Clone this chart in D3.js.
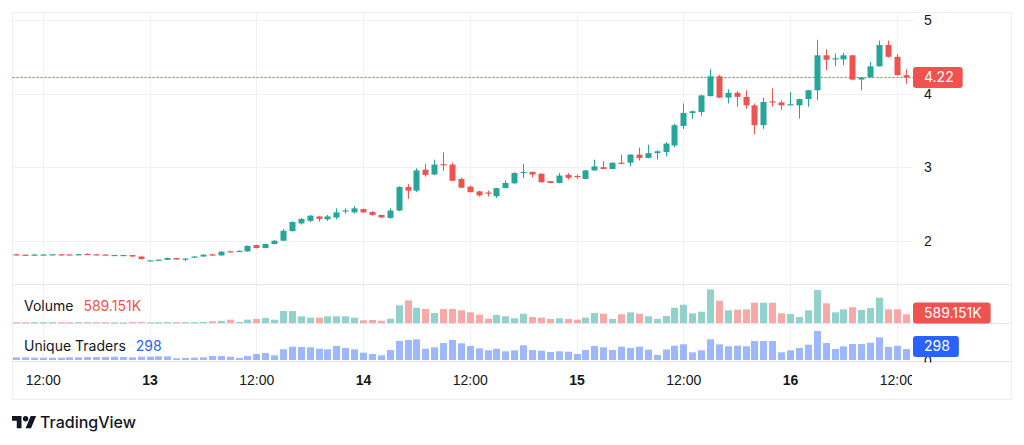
<!DOCTYPE html>
<html lang="en">
<head>
    <meta charset="UTF-8">
    <script src="https://d3js.org/d3.v7.min.js"></script>
    <title>Candles - Volume - Unique Traders</title>
    <style>
        body { margin: 0; background: #fff; }
        svg { display: block; font-family: Inter, Roboto, "Noto Sans", sans-serif; }
        .grid line { stroke: #f0f2f5; stroke-width: 1; }
        .sep { stroke: #e3e6ec; stroke-width: 1; }
        .axis text { fill: #131722; font-size: 14px; }
        .axis .domain { display: none; }
        .legend { fill: #131722; font-size: 14px; }
        .box-text { fill: #fff; font-size: 14px; }
    </style>
</head>
<body>
<div id="chart"></div>
<script>
    const width = 1024;
    const height = 445;

    // hourly candles, from the 12th 09:00 to the 16th 13:00
    const opens = [1.815, 1.810, 1.805, 1.810, 1.812, 1.815, 1.814, 1.806, 1.820, 1.815,
        1.812, 1.803, 1.803, 1.805, 1.785, 1.730, 1.735, 1.740, 1.765, 1.745,
        1.770, 1.785, 1.815, 1.800, 1.855, 1.855, 1.855, 1.940, 1.900, 1.955,
        2.000, 2.130, 2.235, 2.270, 2.330, 2.290, 2.315, 2.405, 2.385, 2.430,
        2.390, 2.350, 2.310, 2.410, 2.730, 2.680, 2.965, 2.900, 3.040, 3.035,
        2.840, 2.735, 2.670, 2.655, 2.605, 2.715, 2.780, 2.925, 2.935, 2.910,
        2.810, 2.785, 2.895, 2.880, 2.840, 2.955, 3.000, 2.975, 3.060, 3.060,
        3.170, 3.125, 3.190, 3.205, 3.295, 3.560, 3.735, 3.750, 3.965, 4.235,
        3.945, 4.010, 3.955, 3.840, 3.570, 3.895, 3.880, 3.850, 3.840, 3.925,
        4.045, 4.520, 4.470, 4.465, 4.520, 4.190, 4.220, 4.370, 4.660, 4.500,
        4.250];
    const highs = [1.822, 1.813, 1.815, 1.816, 1.816, 1.817, 1.815, 1.820, 1.827, 1.819,
        1.816, 1.807, 1.807, 1.806, 1.787, 1.736, 1.745, 1.770, 1.767, 1.762,
        1.790, 1.815, 1.822, 1.855, 1.866, 1.866, 1.935, 1.945, 1.958, 2.005,
        2.160, 2.262, 2.310, 2.350, 2.335, 2.350, 2.440, 2.440, 2.470, 2.435,
        2.400, 2.352, 2.440, 2.740, 2.770, 2.985, 3.045, 3.100, 3.200, 3.060,
        2.855, 2.750, 2.680, 2.680, 2.720, 2.820, 2.930, 3.045, 2.940, 2.915,
        2.812, 2.920, 2.920, 2.900, 2.965, 3.100, 3.080, 3.065, 3.170, 3.175,
        3.265, 3.305, 3.230, 3.340, 3.590, 3.865, 3.770, 3.985, 4.330, 4.255,
        4.060, 4.035, 4.045, 3.865, 3.945, 4.070, 3.910, 4.020, 3.930, 4.050,
        4.730, 4.600, 4.545, 4.555, 4.525, 4.225, 4.430, 4.720, 4.720, 4.535,
        4.330];
    const lows = [1.802, 1.803, 1.800, 1.805, 1.806, 1.800, 1.809, 1.800, 1.813, 1.808,
        1.805, 1.802, 1.802, 1.778, 1.745, 1.728, 1.730, 1.738, 1.742, 1.725,
        1.765, 1.780, 1.795, 1.795, 1.843, 1.853, 1.850, 1.897, 1.898, 1.952,
        1.995, 2.125, 2.220, 2.250, 2.260, 2.270, 2.290, 2.370, 2.370, 2.380,
        2.340, 2.310, 2.300, 2.400, 2.570, 2.660, 2.870, 2.890, 2.950, 2.810,
        2.715, 2.655, 2.600, 2.600, 2.580, 2.710, 2.775, 2.850, 2.860, 2.790,
        2.780, 2.780, 2.830, 2.840, 2.835, 2.950, 2.970, 2.970, 3.040, 3.010,
        3.090, 3.120, 3.100, 3.145, 3.270, 3.520, 3.655, 3.700, 3.960, 3.940,
        3.865, 3.820, 3.795, 3.445, 3.520, 3.820, 3.775, 3.840, 3.660, 3.820,
        3.910, 4.320, 4.370, 4.385, 4.180, 4.045, 4.215, 4.365, 4.490, 4.245,
        4.135];
    const closes = [1.808, 1.805, 1.812, 1.813, 1.815, 1.810, 1.811, 1.817, 1.815, 1.810,
        1.808, 1.806, 1.806, 1.785, 1.750, 1.733, 1.742, 1.765, 1.745, 1.757,
        1.785, 1.810, 1.800, 1.850, 1.845, 1.863, 1.930, 1.900, 1.955, 2.000,
        2.135, 2.255, 2.295, 2.340, 2.295, 2.330, 2.385, 2.412, 2.440, 2.385,
        2.350, 2.315, 2.410, 2.730, 2.680, 2.955, 2.895, 3.035, 3.030, 2.815,
        2.720, 2.660, 2.615, 2.640, 2.715, 2.785, 2.920, 2.935, 2.900, 2.795,
        2.785, 2.885, 2.855, 2.870, 2.955, 3.010, 2.975, 3.060, 3.045, 3.170,
        3.125, 3.190, 3.215, 3.320, 3.570, 3.735, 3.760, 3.975, 4.235, 3.945,
        4.010, 3.955, 3.840, 3.570, 3.885, 3.885, 3.840, 3.855, 3.925, 4.045,
        4.520, 4.460, 4.480, 4.520, 4.190, 4.220, 4.370, 4.660, 4.500, 4.250,
        4.220];
    // volume in thousands
    const volumes = [50, 45, 55, 50, 48, 52, 45, 60, 55, 48,
        50, 45, 42, 60, 70, 45, 50, 60, 55, 58,
        62, 70, 115, 135, 225, 70, 225, 270, 340, 225,
        810, 810, 455, 360, 360, 455, 455, 455, 360, 180,
        205, 155, 290, 1200, 1535, 1035, 950, 675, 950, 950,
        860, 725, 560, 290, 540, 455, 320, 630, 405, 360,
        270, 320, 270, 225, 360, 675, 630, 270, 590, 725,
        630, 455, 270, 475, 1035, 1240, 655, 765, 2280, 1510,
        860, 900, 925, 1375, 1375, 1375, 655, 610, 405, 860,
        2235, 1335, 725, 925, 1065, 880, 1015, 1715, 925, 925,
        589.151];
    const traders = [92, 92, 82, 82, 82, 82, 92, 92, 99, 99,
        99, 107, 99, 92, 107, 107, 117, 117, 67, 75,
        82, 92, 124, 124, 107, 75, 124, 174, 199, 142,
        291, 355, 348, 340, 305, 291, 372, 323, 291, 206,
        174, 142, 273, 497, 521, 539, 305, 340, 447, 521,
        440, 372, 315, 266, 305, 241, 266, 390, 273, 256,
        223, 241, 231, 174, 273, 372, 340, 273, 355, 323,
        355, 281, 149, 286, 380, 415, 216, 266, 539, 415,
        365, 380, 365, 497, 497, 497, 216, 266, 323, 405,
        745, 447, 298, 365, 422, 422, 454, 588, 348, 380,
        298];
    const priceTicks = [2, 3, 4, 5];
    const lastPrice = 4.22;
    const volumeLabel = "589.151K";
    const tradersLabel = "298";

    const times = d3.timeHour.range(new Date(2024, 5, 12, 9), new Date(2024, 5, 16, 14));
    const candles = times.map((t, i) => ({
        t, o: opens[i], h: highs[i], l: lows[i], c: closes[i], v: volumes[i], u: traders[i]
    }));

    const up = "#26a69a", down = "#ef5350", blue = "#2962ff";
    const frame = { left: 12.5, right: 1011.5, top: 12.5, bottom: 399.5 };
    const plotRight = 913;
    const paneMain = [12.5, 284.5], paneVol = [284.5, 323.5], paneTr = [323.5, 361.5];

    const svg = d3.select("#chart").append("svg")
        .attr("width", width)
        .attr("height", height);

    const defs = svg.append("defs");
    defs.append("clipPath").attr("id", "clipPlot")
        .append("rect").attr("x", frame.left).attr("y", frame.top)
        .attr("width", plotRight - frame.left - 1).attr("height", frame.bottom - frame.top);
    defs.append("clipPath").attr("id", "clipTr")
        .append("rect").attr("x", plotRight).attr("y", paneTr[0])
        .attr("width", frame.right - plotRight).attr("height", 39);

    // scales
    const x = d3.scaleTime()
        .domain([new Date(2024, 5, 12, 12), new Date(2024, 5, 16, 12)])
        .range([42.8, 896.8]);
    const y = d3.scaleLinear().domain([2, 5]).range([240.7, 20]);
    const yVol = d3.scaleLinear().domain([0, 2400]).range([323, 287.6]);
    const yTr = d3.scaleLinear().domain([0, 800]).range([361, 328.8]);

    const timeTicks = x.ticks(d3.timeHour.every(12))
        .filter(d => d >= times[0] && d <= times[times.length - 1]);

    // grid
    const grid = svg.append("g").attr("class", "grid");
    grid.selectAll(".v").data(timeTicks).join("line")
        .attr("x1", d => Math.round(x(d)) + 0.5).attr("x2", d => Math.round(x(d)) + 0.5)
        .attr("y1", frame.top).attr("y2", paneTr[1]);
    grid.selectAll(".h").data(priceTicks).join("line")
        .attr("x1", frame.left).attr("x2", plotRight)
        .attr("y1", d => Math.round(y(d)) + 0.5).attr("y2", d => Math.round(y(d)) + 0.5);

    // frame and pane separators
    svg.append("rect")
        .attr("x", frame.left).attr("y", frame.top)
        .attr("width", frame.right - frame.left).attr("height", frame.bottom - frame.top)
        .attr("fill", "none").attr("stroke", "#eceef2");
    [paneMain[1], paneVol[1], paneTr[1]].forEach(yy => {
        svg.append("line").attr("class", "sep")
            .attr("x1", frame.left).attr("x2", frame.right)
            .attr("y1", yy).attr("y2", yy);
    });

    // last price line
    svg.append("line")
        .attr("x1", frame.left).attr("x2", plotRight)
        .attr("y1", Math.round(y(lastPrice)) + 0.5).attr("y2", Math.round(y(lastPrice)) + 0.5)
        .attr("stroke", down).attr("stroke-dasharray", "2,2");

    // candles
    const bw = 6;
    const cg = svg.append("g").attr("clip-path", "url(#clipPlot)");
    cg.selectAll(".wick").data(candles).join("line")
        .attr("x1", d => Math.round(x(d.t)) + 0.5).attr("x2", d => Math.round(x(d.t)) + 0.5)
        .attr("y1", d => y(d.h)).attr("y2", d => y(d.l))
        .attr("stroke", d => d.c >= d.o ? up : down);
    cg.selectAll(".body").data(candles).join("rect")
        .attr("x", d => Math.round(x(d.t)) + 0.5 - bw / 2)
        .attr("width", bw)
        .attr("y", d => y(Math.max(d.o, d.c)))
        .attr("height", d => Math.max(1.2, Math.abs(y(d.o) - y(d.c))))
        .attr("fill", d => d.c >= d.o ? up : down);

    // volume
    const vw = 7;
    cg.selectAll(".vol").data(candles).join("rect")
        .attr("x", d => Math.round(x(d.t)) + 0.5 - vw / 2)
        .attr("width", vw)
        .attr("y", d => yVol(d.v))
        .attr("height", d => Math.max(1, yVol(0) - yVol(d.v)))
        .attr("fill", d => d.c >= d.o ? up : down)
        .attr("fill-opacity", 0.5);

    // unique traders
    cg.selectAll(".tr").data(candles).join("rect")
        .attr("x", d => Math.round(x(d.t)) + 0.5 - vw / 2)
        .attr("width", vw)
        .attr("y", d => yTr(d.u))
        .attr("height", d => yTr(0) - yTr(d.u) - 1)
        .attr("fill", blue)
        .attr("fill-opacity", 0.45);

    // price axis
    svg.append("g").attr("class", "axis")
        .attr("transform", `translate(${plotRight},0)`)
        .call(d3.axisRight(y).tickValues(priceTicks).tickSize(0).tickPadding(11).tickFormat(d3.format("d")));

    // zero of the traders pane, mostly hidden
    svg.append("g").attr("clip-path", "url(#clipTr)")
        .append("g").attr("class", "axis")
        .attr("transform", `translate(${plotRight},0)`)
        .call(d3.axisRight(yTr).tickValues([0]).tickSize(0).tickPadding(11));

    // time axis (clip on an outer group so the transform does not move it)
    const xAxis = svg.append("g").attr("clip-path", "url(#clipPlot)")
        .append("g").attr("class", "axis")
        .attr("transform", `translate(0,${paneTr[1] + 11})`)
        .call(d3.axisBottom(x).tickValues(timeTicks).tickSize(0)
            .tickFormat(d => d.getHours() === 0 ? d3.timeFormat("%-d")(d) : d3.timeFormat("%H:%M")(d)));
    xAxis.selectAll("text")
        .attr("font-weight", d => d.getHours() === 0 ? 700 : 400);

    // price / value labels on the scale
    function scaleLabel(yy, txt, color) {
        const g = svg.append("g");
        const r = g.append("rect").attr("fill", color).attr("rx", 3);
        const t = g.append("text").attr("class", "box-text")
            .attr("x", plotRight + 11).attr("y", yy).attr("dy", "0.35em").text(txt);
        const w = t.node().getComputedTextLength();
        r.attr("x", plotRight).attr("y", yy - 10.5).attr("width", w + 20).attr("height", 21);
    }
    scaleLabel(y(lastPrice), d3.format(".2f")(lastPrice), down);
    scaleLabel(313, volumeLabel, down);
    scaleLabel(346.5, tradersLabel, blue);

    // pane legends
    const lv = svg.append("text").attr("class", "legend").attr("x", 24).attr("y", 311).text("Volume");
    lv.append("tspan").attr("dx", 10).attr("fill", down).text(volumeLabel);
    const lt = svg.append("text").attr("class", "legend").attr("x", 24).attr("y", 351).text("Unique Traders");
    lt.append("tspan").attr("dx", 10).attr("fill", blue).text(tradersLabel);

    // TradingView mark
    svg.append("path")
        .attr("transform", "translate(12,413.3) scale(0.68)")
        .attr("d", "M14 22H7V11H0V4h14v18zM28 22h-8l7.5-18h8L28 22z")
        .attr("fill", "#131722");
    svg.append("circle")
        .attr("transform", "translate(12,413.3) scale(0.68)")
        .attr("cx", 20).attr("cy", 8).attr("r", 4)
        .attr("fill", "#131722");
    svg.append("text")
        .attr("x", 40).attr("y", 428)
        .attr("fill", "#131722")
        .attr("font-size", 16)
        .attr("font-weight", 500)
        .text("TradingView");
</script>
</body>
</html>
